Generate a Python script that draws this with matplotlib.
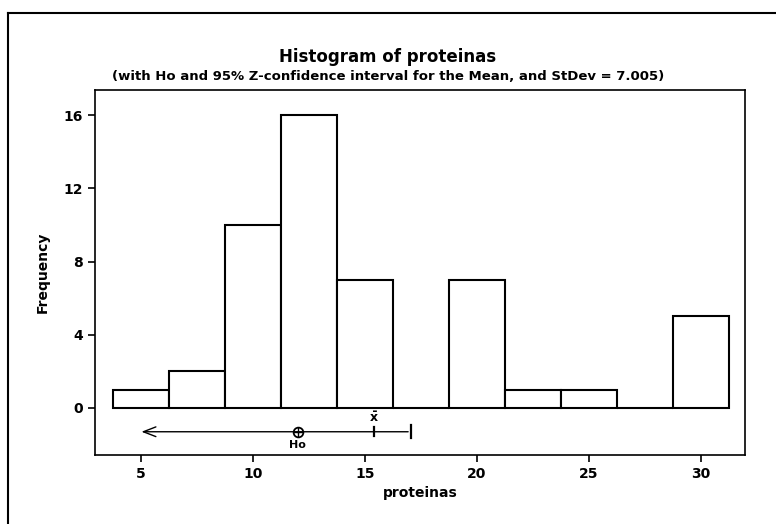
import numpy as np
import matplotlib.pyplot as plt
from matplotlib.lines import Line2D

# histogram data
bin_centers = [5, 7.5, 10, 12.5, 15, 17.5, 20, 22.5, 25, 27.5, 30]
freqs = [1, 2, 10, 16, 7, 0, 7, 1, 1, 0, 5]
bin_width = 2.5

# Ho and confidence bound
ho = 12.0
xbar = 15.4
upper = 17.05
ci_y = -1.3

xticks = [5, 10, 15, 20, 25, 30]
yticks = [0, 4, 8, 12, 16]

plt.rcParams['font.family'] = ['Liberation Sans Narrow', 'DejaVu Sans']
plt.rcParams['font.weight'] = 'bold'

fig = plt.figure(figsize=(7.76, 5.24), dpi=100)
ax = fig.add_axes([95 / 776, 1 - 455 / 524, 650 / 776, 365 / 524])

ax.bar(bin_centers, freqs, width=bin_width, color='white', edgecolor='black', linewidth=1.5)

# confidence interval line with arrow to the left
ax.annotate('', xy=(4.9, ci_y), xytext=(upper, ci_y),
            arrowprops=dict(arrowstyle='->,head_length=0.9,head_width=0.35',
                            color='black', lw=1.0))
ax.plot([upper, upper], [ci_y - 0.35, ci_y + 0.35], color='black', lw=1.6)
ax.plot([xbar, xbar], [ci_y - 0.25, ci_y + 0.25], color='black', lw=1.6)
ax.plot([ho], [ci_y], marker='o', ms=7, mfc='white', mec='black', mew=1.3)
ax.plot([ho], [ci_y], marker='+', ms=7, color='black', mew=1.0)
ax.text(ho, ci_y - 0.45, 'Ho', ha='center', va='top', fontsize=8, fontweight='bold')
ax.text(xbar, ci_y + 0.35, r'$\bar{\mathbf{x}}$', ha='center', va='bottom', fontsize=9)

ax.set_xlim(2.95, 31.96)
ax.set_ylim(-2.57, 17.37)
ax.set_xticks(xticks)
ax.set_yticks(yticks)
ax.tick_params(axis='both', direction='out', length=5, width=1.2, labelsize=10)
for lab in ax.get_xticklabels() + ax.get_yticklabels():
    lab.set_fontweight('bold')
for sp in ax.spines.values():
    sp.set_linewidth(1.2)

ax.set_xlabel('proteinas', fontsize=10, fontweight='bold', labelpad=4)
ax.set_ylabel('Frequency', fontsize=10, fontweight='bold', labelpad=10)

fig.text(0.5, 1 - 57 / 524, 'Histogram of proteinas', ha='center', va='center',
         fontsize=12, fontweight='heavy')
fig.text(0.5, 1 - 77 / 524,
         '(with Ho and 95% Z-confidence interval for the Mean, and StDev = 7.005)',
         ha='center', va='center', fontsize=9.5, fontweight='bold')

# outer frame: only left and top edges are visible in the picture
fig.add_artist(Line2D([8 / 776, 8 / 776], [0, 1 - 13 / 524], transform=fig.transFigure,
                      color='black', lw=1.5))
fig.add_artist(Line2D([8 / 776, 1], [1 - 13 / 524, 1 - 13 / 524], transform=fig.transFigure,
                      color='black', lw=1.5))

fig.savefig('out.png', dpi=100)
